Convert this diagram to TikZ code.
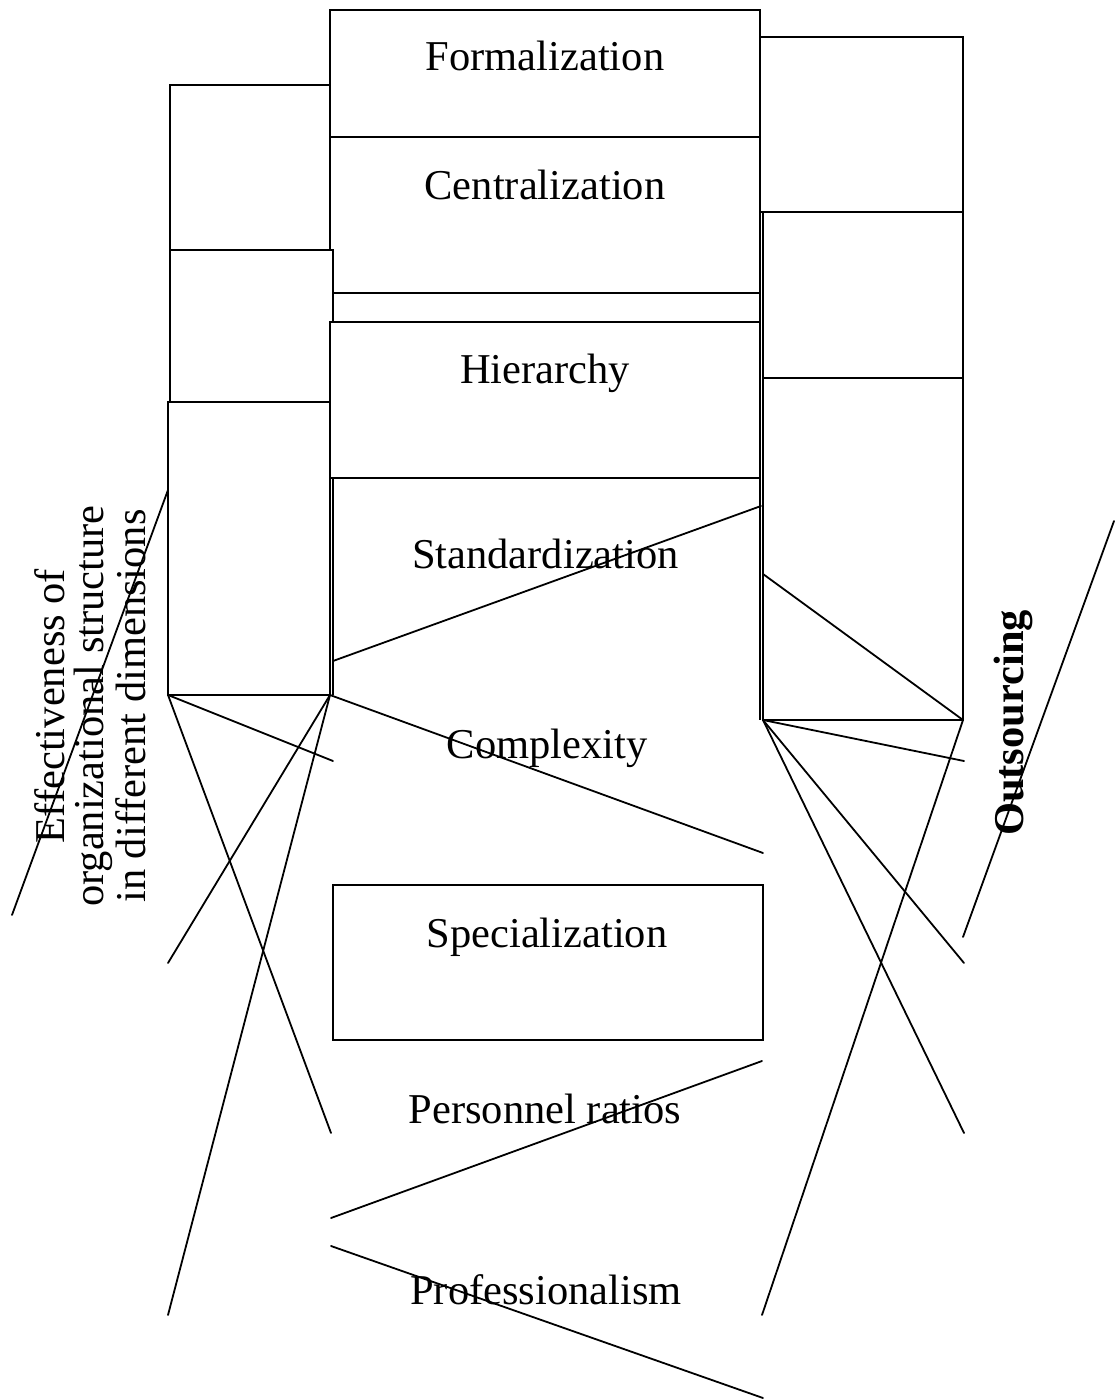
\documentclass[tikz,border=0pt]{standalone}
\usepackage{fontspec}
\setmainfont{Liberation Serif}
\begin{document}
\begin{tikzpicture}[x=0.5pt,y=-0.5pt, line width=0.9pt,
  box/.style={draw, fill=white, inner sep=0pt, outer sep=0pt},
  lbl/.style={font=\fontsize{21.25}{19.5}\selectfont, inner sep=0pt, anchor=base},
  conn/.style={draw, line cap=round}]
\useasboundingbox (0,0) rectangle (1114,1400);
% boxes
\node[box, minimum width=215pt, minimum height=63.5pt] (form) at (545,73.5) {};
\node[box, minimum width=215pt, minimum height=78pt] (cent) at (545,215) {};
\node[box, minimum width=80pt, minimum height=82.5pt] (L1) at (250,167.5) {};
\node[box, minimum width=81.5pt, minimum height=76pt] (L2) at (251.5,326) {};
\node[box, minimum width=213.5pt, minimum height=14.5pt] (strip) at (546.5,307.5) {};
\node[box, minimum width=215pt, minimum height=78pt] (hier) at (545,400) {};
\node[box, minimum width=81pt, minimum height=146.5pt] (L3) at (249,548.5) {};
\coordinate (s1) at (333,695);
\coordinate (s2) at (333,478);
\coordinate (s3) at (760,478);
\coordinate (s4) at (760,720);
\draw (s1) -- (s2) -- (s3) -- (s4);
\node[box, minimum width=101.5pt, minimum height=87.5pt] (R1) at (861.5,124.5) {};
\node[box, minimum width=100pt, minimum height=83pt] (R2) at (863,295) {};
\node[box, minimum width=100pt, minimum height=171pt] (R3) at (863,549) {};
\node[box, minimum width=215pt, minimum height=77.5pt] (spec) at (548,962.5) {};
% labels
\node[lbl] (tform) at (545,71) {Formalization};
\node[lbl] (tcent) at (545,200) {Centralization};
\node[lbl] (thier) at (545,384) {Hierarchy};
\node[lbl] (tstand) at (545.5,568) {Standardization};
\node[lbl] (tcomp) at (547,758) {Complexity};
\node[lbl] (tspec) at (547,947) {Specialization};
\node[lbl] (tpers) at (545,1123) {Personnel ratios};
\node[lbl] (tprof) at (546,1304) {Professionalism};
\node[lbl, rotate=90, align=center] (teff) at (145,706) {Effectiveness of\\organizational structure\\in different dimensions};
\node[lbl, rotate=90, font=\fontsize{21.25}{19.5}\selectfont\bfseries] (tout) at (1023,723) {Outsourcing};
% free ends
\coordinate (a1) at (168,490);
\coordinate (a2) at (12,915);
\coordinate (b1) at (333,661);
\coordinate (b2) at (761,506);
\coordinate (c2) at (333,761);
\coordinate (d2) at (331,1133);
\coordinate (e2) at (168,963);
\coordinate (f2) at (168,1315);
\coordinate (g2) at (763,853);
\coordinate (h1) at (763,574);
\coordinate (i2) at (964,761);
\coordinate (j2) at (964,963);
\coordinate (k2) at (964,1133);
\coordinate (l2) at (762,1315);
\coordinate (m1) at (963,937);
\coordinate (m2) at (1114,521);
\coordinate (n1) at (331,1218);
\coordinate (n2) at (762,1061);
\coordinate (o1) at (331,1246);
\coordinate (o2) at (763,1398);
% connectors
\draw[conn] (a1) -- (a2);
\draw[conn] (b1) -- (b2);
\draw[conn] (L3.south west) -- (c2);
\draw[conn] (L3.south west) -- (d2);
\draw[conn] (L3.south east) -- (e2);
\draw[conn] (L3.south east) -- (f2);
\draw[conn] (L3.south east) -- (g2);
\draw[conn] (h1) -- (R3.south east);
\draw[conn] (R3.south west) -- (i2);
\draw[conn] (R3.south west) -- (j2);
\draw[conn] (R3.south west) -- (k2);
\draw[conn] (R3.south east) -- (l2);
\draw[conn] (m1) -- (m2);
\draw[conn] (n1) -- (n2);
\draw[conn] (o1) -- (o2);
\end{tikzpicture}
\end{document}
